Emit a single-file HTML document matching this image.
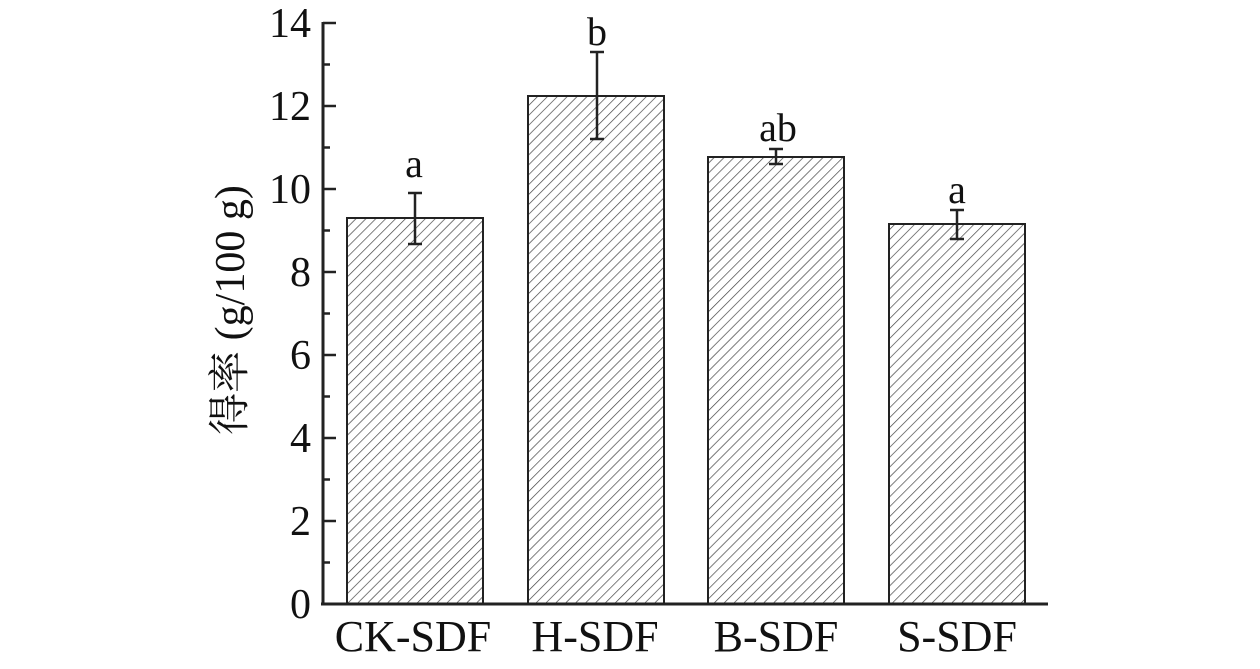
<!DOCTYPE html>
<html><head><meta charset="utf-8"><style>
html,body{margin:0;padding:0;background:#fff;}
svg text{font-family:"Liberation Serif","Noto Serif CJK SC",serif;fill:#111;}
</style></head><body>
<svg width="1260" height="664" viewBox="0 0 1260 664" xmlns="http://www.w3.org/2000/svg">
<defs>
<pattern id="h" patternUnits="userSpaceOnUse" width="7" height="7" patternTransform="rotate(45)">
<line x1="0" y1="0" x2="0" y2="7" stroke="#444" stroke-width="1.4"/>
</pattern>
</defs>
<g stroke="#222" stroke-width="2">
<rect x="347" y="218" width="136" height="386" fill="url(#h)"/>
<rect x="528" y="96" width="136" height="508" fill="url(#h)"/>
<rect x="708" y="157" width="136" height="447" fill="url(#h)"/>
<rect x="889" y="224" width="136" height="380" fill="url(#h)"/>
</g>
<g stroke="#222" stroke-width="2.5" fill="none">
<line x1="415" y1="193" x2="415" y2="244"/><line x1="408" y1="193" x2="422" y2="193"/><line x1="408" y1="244" x2="422" y2="244"/>
<line x1="597" y1="52" x2="597" y2="139"/><line x1="590" y1="52" x2="604" y2="52"/><line x1="590" y1="139" x2="604" y2="139"/>
<line x1="776" y1="149" x2="776" y2="164"/><line x1="769" y1="149" x2="783" y2="149"/><line x1="769" y1="164" x2="783" y2="164"/>
<line x1="957" y1="210" x2="957" y2="239"/><line x1="950" y1="210" x2="964" y2="210"/><line x1="950" y1="239" x2="964" y2="239"/>
</g>
<g stroke="#222" stroke-width="3">
<line x1="323" y1="22" x2="323" y2="605"/>
<line x1="321" y1="604" x2="1048" y2="604"/>
</g>
<g stroke="#222" stroke-width="2.5">
<line x1="323" y1="23" x2="336" y2="23"/><line x1="323" y1="64.5" x2="330" y2="64.5"/>
<line x1="323" y1="106" x2="336" y2="106"/><line x1="323" y1="147.5" x2="330" y2="147.5"/>
<line x1="323" y1="189" x2="336" y2="189"/><line x1="323" y1="230.5" x2="330" y2="230.5"/>
<line x1="323" y1="272" x2="336" y2="272"/><line x1="323" y1="313.5" x2="330" y2="313.5"/>
<line x1="323" y1="355" x2="336" y2="355"/><line x1="323" y1="396.5" x2="330" y2="396.5"/>
<line x1="323" y1="438" x2="336" y2="438"/><line x1="323" y1="479.5" x2="330" y2="479.5"/>
<line x1="323" y1="521" x2="336" y2="521"/><line x1="323" y1="562.5" x2="330" y2="562.5"/>
</g>
<g font-size="42" text-anchor="end">
<text x="311" y="37">14</text><text x="311" y="120">12</text><text x="311" y="203">10</text>
<text x="311" y="286">8</text><text x="311" y="369">6</text><text x="311" y="452">4</text>
<text x="311" y="535">2</text><text x="311" y="618">0</text>
</g>
<g font-size="44" text-anchor="middle">
<text x="413" y="651">CK-SDF</text><text x="595" y="651">H-SDF</text>
<text x="776" y="651">B-SDF</text><text x="957" y="651">S-SDF</text>
</g>
<g font-size="40" text-anchor="middle">
<text x="414" y="177">a</text><text x="597" y="45">b</text>
<text x="778" y="141">ab</text><text x="957" y="203">a</text>
</g>
<text x="0" y="0" font-size="42" text-anchor="middle" transform="translate(244,310) rotate(-90)">得率 (g/100 g)</text>
</svg>
</body></html>
